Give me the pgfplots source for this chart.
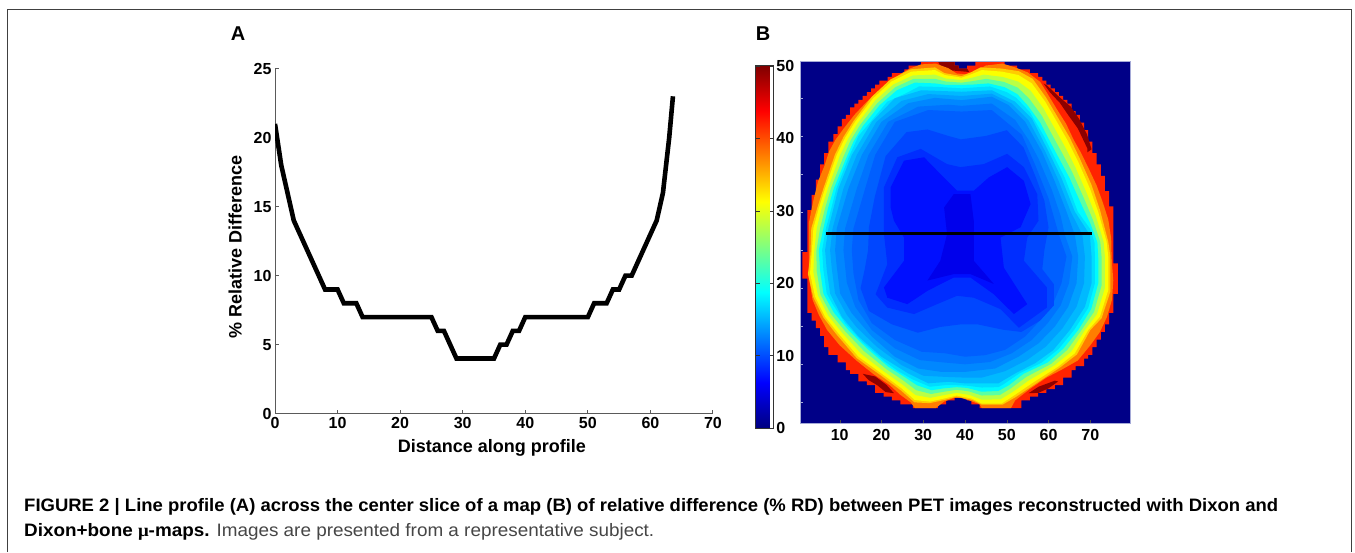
\documentclass[border=0pt]{standalone}
\usepackage{pgfplots}
\usepackage{graphicx}
\usepackage{fontspec}
\pgfplotsset{compat=1.18}
\setmainfont{Liberation Sans}
\newfontfamily\symfont{Liberation Serif}
\definecolor{bgb}{RGB}{0,0,135}
\definecolor{cR}{RGB}{255,35,0}
\definecolor{cDR}{RGB}{140,0,0}
\definecolor{cO}{RGB}{255,125,0}
\definecolor{cYO}{RGB}{255,205,0}
\definecolor{cY}{RGB}{250,255,0}
\definecolor{cG1}{RGB}{185,255,70}
\definecolor{cG2}{RGB}{90,255,165}
\definecolor{cC}{RGB}{0,250,255}
\definecolor{cCL}{RGB}{0,220,255}
\definecolor{cL}{RGB}{0,185,255}
\definecolor{cLM}{RGB}{0,160,255}
\definecolor{cM}{RGB}{0,135,255}
\definecolor{cMB}{RGB}{0,115,255}
\definecolor{cB}{RGB}{0,95,255}
\definecolor{cBD}{RGB}{0,70,255}
\definecolor{cD}{RGB}{0,45,255}
\definecolor{cE}{RGB}{0,15,255}
\definecolor{cF}{RGB}{0,0,235}
\definecolor{axg}{RGB}{90,90,90}
\definecolor{axb}{RGB}{165,170,215}
\definecolor{capg}{RGB}{70,70,70}
\newcommand{\lab}{\bfseries\fontsize{16}{16}\selectfont}
\begin{document}
\begin{tikzpicture}[x=1pt,y=1pt]
\useasboundingbox (0,0) rectangle (1355,552);
\fill[white] (0,0) rectangle (1355,552);
\draw[black!75,line width=0.8pt] (7,0) -- (7,543) -- (1351,543) -- (1351,0);
\node[anchor=center,font=\bfseries\fontsize{20}{20}\selectfont] at (238,518) {A};
\node[anchor=center,font=\bfseries\fontsize{20}{20}\selectfont] at (763,518) {B};
\node[anchor=base west,inner sep=0pt] at (24,41) {\resizebox{1254pt}{\height}{\fontsize{18}{18}\selectfont\bfseries FIGURE 2 | Line profile (A) across the center slice of a map (B) of relative difference (\% RD) between PET images reconstructed with Dixon and}};
\node[anchor=base west,inner sep=0pt] at (24,16) {\resizebox{630pt}{\height}{\fontsize{18}{18}\selectfont{\bfseries Dixon+bone {\symfont μ}-maps.} \textcolor{capg}{Images are presented from a representative subject.}}};
\begin{axis}[
  at={(275pt,138.3pt)},anchor=south west,scale only axis,width=438pt,height=345pt,
  xmin=0,xmax=70,ymin=0,ymax=25,
  axis x line*=bottom,axis y line*=left,
  axis line style={axg,line width=1pt,-},
  tick style={axg,line width=1pt},tick align=inside,major tick length=4pt,
  xtick={0,10,...,70},ytick={0,5,...,25},
  /pgf/number format/assume math mode=true,
  ticklabel style={font=\lab},
  xlabel={Distance along profile},ylabel={\% Relative Difference},
  label style={font=\bfseries\fontsize{18}{18}\selectfont},
  xlabel style={at={(axis description cs:0.495,-0.1)},anchor=center},
  ylabel style={at={(axis description cs:-0.091,0.483)},anchor=center},
]
\addplot[black,line width=4.6pt,line join=miter] coordinates {
(0,21)(1,18)(2,16)(3,14)(4,13)(5,12)(6,11)(7,10)(8,9)(9,9)(10,9)(11,8)(12,8)(13,8)(14,7)(15,7)(20,7)(25,7)(26,6)(27,6)(28,5)(29,4)(30,4)(35,4)(36,5)(37,5)(38,6)(39,6)(40,7)(45,7)(50,7)(51,8)(52,8)(53,8)(54,9)(55,9)(56,10)(57,10)(58,11)(59,12)(60,13)(61,14)(62,16)(63,20)(63.6,23)};
\end{axis}
\begin{axis}[
  at={(800pt,128.7pt)},anchor=south west,scale only axis,width=330pt,height=361.6pt,
  xmin=0.5,xmax=79.5,ymin=0.5,ymax=95.5,y dir=reverse,
  axis background/.style={fill=bgb},
  axis line style={axb,line width=0.8pt},
  axis on top,
  tick align=inside,major tick length=3pt,
  xtick={10,20,...,70},ytick={10,20,...,90},yticklabels={},
  xtick pos=left,xticklabel pos=left,ytick pos=left,
  x tick style={black!70},y tick style={axb},
  /pgf/number format/assume math mode=true,
  xticklabel style={font=\lab,yshift=-2pt},
  point meta min=0,point meta max=50,
  colormap/jet,colorbar,
  colorbar style={
    at={(parent axis.south west)},anchor=south west,xshift=-53pt,yshift=-4.7pt,
    width=18.3pt,height=362.3pt,
    ytick={0,10,...,50},yticklabel pos=right,
    tick align=inside,major tick length=4pt,
    axis line style={black!80,line width=0.7pt},
    tick style={black!80},
    /pgf/number format/assume math mode=true,
    yticklabel style={font=\lab,xshift=-1pt},
  },
]
% head outline
\addplot[fill=cR,draw=none] coordinates {(29.5,0.5)(37.5,0.5)(37.5,1.5)(38.5,1.5)(38.5,2.3)(40.5,2.3)(40.5,1.5)(42.5,1.5)(42.5,0.5)(49.5,0.5)(49.5,1.5)(52.5,1.5)(52.5,2.5)(55.5,2.5)(55.5,3.5)(57.5,3.5)(57.5,4.5)(58.5,4.5)(58.5,5.5)(59.5,5.5)(59.5,6.5)(60.5,6.5)(60.5,7.5)(61.5,7.5)(61.5,8.5)(62.5,8.5)(62.5,9.5)(63.5,9.5)(63.5,10.5)(64.5,10.5)(64.5,11.5)(65.5,11.5)(65.5,13.5)(66.5,13.5)(66.5,14.5)(67.5,14.5)(67.5,16.5)(68.5,16.5)(68.5,18.5)(69.5,18.5)(69.5,21.5)(70.5,21.5)(70.5,24.5)(71.5,24.5)(71.5,27.5)(72.5,27.5)(72.5,30.5)(73.5,30.5)(73.5,34.5)(74.5,34.5)(74.5,38.5)(75.5,38.5)(75.5,53.5)(76.6,53.5)(76.6,61.5)(75.5,61.5)(75.5,66.5)(74.5,66.5)(74.5,69.5)(73.5,69.5)(73.5,71.5)(72.5,71.5)(72.5,73.5)(71.5,73.5)(71.5,75.5)(70.5,75.5)(70.5,77.5)(69.5,77.5)(69.5,78.5)(68.5,78.5)(68.5,80.5)(66.5,80.5)(66.5,81.5)(65.5,81.5)(65.5,83.5)(63.5,83.5)(63.5,85.5)(61.5,85.5)(61.5,86.5)(59.5,86.5)(59.5,87.5)(57.5,87.5)(57.5,88.5)(55.5,88.5)(55.5,89.5)(53.5,89.5)(53.5,91.5)(43.5,91.5)(43.5,90.5)(41.5,90.5)(41.5,89.5)(40.5,89.5)(40.5,88.5)(37.5,88.5)(37.5,89.5)(35.5,89.5)(35.5,90.5)(33.5,90.5)(33.5,91.5)(27.5,91.5)(27.5,90.5)(24.5,90.5)(24.5,89.5)(22.5,89.5)(22.5,88.5)(20.5,88.5)(20.5,87.5)(18.5,87.5)(18.5,85.5)(16.5,85.5)(16.5,84.5)(14.5,84.5)(14.5,82.5)(12.5,82.5)(12.5,81.5)(11.5,81.5)(11.5,79.5)(9.5,79.5)(9.5,77.5)(7.3,77.5)(7.3,75.5)(6.3,75.5)(6.3,72.5)(5.3,72.5)(5.3,70.5)(4.3,70.5)(4.3,68.5)(3.3,68.5)(3.3,66.5)(2.25,66.5)(2.25,57.5)(1.05,57.5)(1.05,50.5)(2.25,50.5)(2.25,39.5)(3.3,39.5)(3.3,35.5)(4.3,35.5)(4.3,31.5)(5.3,31.5)(5.3,27.5)(6.3,27.5)(6.3,24.5)(7.3,24.5)(7.3,21.5)(8.5,21.5)(8.5,19.5)(9.5,19.5)(9.5,17.5)(10.5,17.5)(10.5,15.5)(11.5,15.5)(11.5,14.5)(12.5,14.5)(12.5,12.5)(13.5,12.5)(13.5,11.5)(14.5,11.5)(14.5,10.5)(15.5,10.5)(15.5,9.5)(16.5,9.5)(16.5,8.5)(17.5,8.5)(17.5,7.5)(18.5,7.5)(18.5,6.5)(19.5,6.5)(19.5,5.5)(21.5,5.5)(21.5,4.5)(22.5,4.5)(22.5,3.5)(25.5,3.5)(25.5,2.5)(26.5,2.5)(26.5,1.5)(29.5,1.5)} --cycle;
% dark red patches
\addplot[fill=cDR,draw=none] coordinates {(33.6,0.6)(37.5,0.6)(37.5,1.5)(38.5,1.5)(38.5,2.3)(40.5,2.3)(41,3.2)(36.8,2.8)(34.4,2.2)} --cycle;
\addplot[fill=cDR,draw=none] coordinates {(59.7,6.8)(62.4,9.6)(65.3,12.3)(67.3,15.5)(69.2,19.6)(70.3,23.5)(69.3,24.3)(69.3,23.3)(67,18)(64.7,14.5)(62.7,11.3)(60.3,8.5)(58.8,6.2)} --cycle;
\addplot[fill=cDR,draw=none] coordinates {(15.5,82.5)(18.5,83.2)(21.2,85.4)(23,87.6)(21,87.3)(19,85.5)(17,84.2)} --cycle;
\addplot[fill=cDR,draw=none] coordinates {(55.2,87.6)(57.6,85.9)(61.5,84.3)(62.3,84.5)(60,86.3)(57.6,87.5)} --cycle;
% rim bands
\addplot[fill=cO,draw=none] coordinates {(25,3.4)(27,2.2)(29.5,1.2)(33,1)(36,2.2)(38,3.6)(40,3.8)(42.5,3)(45,1.5)(49,1)(52,2)(55,3.3)(58,5.8)(59.8,9)(62,13)(64.2,16.8)(66,21)(67.8,24.5)(69.8,29)(71.5,33)(73,37.5)(74.3,42)(75,47)(75.1,52)(75.5,58)(75.2,63)(74,67.5)(72.3,71.5)(70,75)(67,79)(63,81.5)(59.5,83.5)(55.5,86.5)(52,89.5)(51,91.5)(44,91.5)(43.5,90.5)(41,89.5)(39,88.8)(37.5,88.8)(35,89.8)(33,91.5)(28,91.5)(27,90)(24.5,88)(22,85.5)(18,82.5)(14,79)(10,75)(7,71)(5,67)(3.5,63)(2.6,57)(2.6,50)(2.6,43)(3.7,37)(4.8,32)(6.3,28)(7.5,24)(9,21)(11,18)(13.5,14.5)(16.5,11)(19.5,8)(23,5)} --cycle;
\addplot[fill=cYO,draw=none] coordinates {(3,51)(3.2,44.3)(4.6,39)(6.1,33.8)(8.9,24.8)(10.9,20.3)(13.3,16.1)(17.7,9.7)(22.1,5.2)(27,2.5)(32.8,2)(35.1,3.5)(39.2,4.3)(41.4,3.3)(43.7,2)(48.7,2.3)(52.9,3)(56.2,5)(59.4,9.9)(62.2,15.1)(65.1,20.5)(67.5,26)(70.3,32.9)(72.3,39.4)(74.3,47.8)(74.8,51.6)(74.8,60.9)(72.7,67.9)(70,71)(66.8,77.4)(62.8,80.8)(56.4,85.5)(52.3,88.5)(49,90.6)(44,90.6)(41.8,89.4)(38,88.5)(35,89.4)(31.5,90.2)(27.9,90)(24.7,86.9)(19.7,82.8)(14.1,78.4)(9.2,72.1)(6.1,67.7)(3.7,62.4)(2.4,56.3)} --cycle;
\addplot[fill=cY,draw=none] coordinates {(3.3,50.8)(3.7,44.3)(5,39)(6.5,33.8)(9.3,25)(11.3,20.5)(13.7,16.3)(18,10.1)(22.4,5.7)(27.2,3.1)(32.8,2.7)(35.2,4)(39.2,4.7)(41.5,3.8)(44,2.7)(48.8,3.1)(52.8,4)(56,6.2)(59.2,11)(62,16.3)(64.7,21.5)(67.1,26.8)(69.9,33.8)(71.9,40)(73.9,47.8)(74.3,51.7)(74.3,60.5)(72.3,67.5)(69.5,71)(66.3,77.1)(62.3,80.6)(56,85)(52,88)(48.8,90.3)(44,90.3)(41.6,89)(38,88.2)(35,89)(31.6,89.8)(28,89.4)(24.8,86.3)(20,82.4)(14.5,78)(9.7,71.9)(6.5,67.5)(4.1,62.2)(2.9,56.1)} --cycle;
\addplot[fill=cG1,draw=none] coordinates {(3.9,50.5)(4.5,44.3)(5.7,39)(7.2,33.8)(10,25.3)(12,20.8)(14.3,16.7)(18.5,10.7)(22.8,6.5)(27.5,4.1)(32.8,3.9)(35.3,4.9)(39.2,5.3)(41.7,4.7)(44.5,3.9)(49,4.5)(52.7,5.7)(55.7,8.1)(58.8,12.8)(61.6,18.3)(64.1,23.2)(66.4,28.2)(69.2,35.2)(71.3,41)(73.2,47.9)(73.5,51.8)(73.5,59.9)(71.6,66.8)(68.7,71)(65.4,76.7)(61.5,80.2)(55.3,84.2)(51.5,87.2)(48.5,89.2)(44,89.3)(41.2,88.1)(38,87.5)(35,88.1)(31.7,88.8)(28.2,88.1)(25,85.3)(20.5,81.8)(15.2,77.3)(10.5,71.6)(7.2,67.1)(4.8,61.9)(3.7,55.8)} --cycle;
\addplot[fill=cG2,draw=none] coordinates {(4.4,50.3)(5.3,44.3)(6.5,39)(7.9,33.8)(10.8,25.7)(12.6,21.2)(14.9,17.1)(19,11.4)(23.3,7.2)(27.7,5)(32.8,5)(35.4,5.7)(39.2,6)(41.8,5.6)(45.1,5)(49.3,5.8)(52.6,7.3)(55.3,10.1)(58.4,14.7)(61.2,20.4)(63.4,24.8)(65.7,29.6)(68.6,36.7)(70.6,42)(72.4,47.9)(72.7,51.9)(72.7,59.3)(70.9,66.2)(67.9,71)(64.5,76.2)(60.6,79.9)(54.7,83.3)(51,86.3)(48.3,88.1)(44,88.2)(40.9,87.1)(38,86.7)(35,87.2)(31.9,87.8)(28.3,86.8)(25.3,84.3)(21.1,81.2)(15.8,76.5)(11.3,71.3)(7.9,66.8)(5.4,61.7)(4.5,55.5)} --cycle;
\addplot[fill=cC,draw=none] coordinates {(5,50)(6.1,44.3)(7.2,39)(8.6,33.8)(11.5,26)(13.3,21.5)(15.5,17.5)(19.5,12)(23.7,8)(28,6)(32.8,6.2)(35.5,6.6)(39.2,6.6)(42,6.5)(45.6,6.2)(49.5,7.2)(52.5,9)(55,12)(58,16.5)(60.8,22.4)(62.8,26.5)(65,31)(67.9,38.1)(70,43)(71.7,48)(71.9,52)(71.9,58.7)(70.2,65.5)(67.1,71)(63.6,75.8)(59.8,79.5)(54,82.5)(50.5,85.5)(48,87)(44,87.2)(40.5,86.2)(38,86)(35,86.3)(32,86.8)(28.5,85.5)(25.5,83.3)(21.6,80.6)(16.5,75.8)(12.1,71)(8.6,66.4)(6.1,61.4)(5.3,55.2)} --cycle;
\addplot[fill=cCL,draw=none] coordinates {(5.8,50)(6.7,44.3)(8,39)(9.2,33.8)(12.2,25.5)(14.5,20)(17,16.8)(21.4,11)(25.5,9)(29,7)(33,7.1)(39.2,7.5)(43,7.2)(46,7)(50,8.5)(52.3,10)(55.5,13.7)(59,20.3)(61.9,26.7)(63.9,31)(67,39.9)(70,44.5)(71,48)(71.1,52)(71.1,58.7)(69.5,65.2)(66.1,71)(62.4,76)(58.3,79.6)(53,82.4)(49.3,85.2)(48,86)(44,86.1)(40.3,85.6)(38,85.5)(35,85.5)(31.6,85.9)(27.5,84)(24,81.8)(20.8,79.3)(15.5,74.2)(11.3,69.2)(8.2,64)(6.9,61.4)(6.1,55.2)} --cycle;
% interior levels
\addplot[fill=cL,draw=none] coordinates {(6.5,50)(7.3,44.3)(9.7,33.8)(12.9,25)(17.7,16.3)(23.2,10.1)(29.6,8)(39.2,8.4)(46.4,8)(52,11)(56,15.4)(60,24.1)(63.1,31.1)(66.3,39.9)(69.9,46)(70.3,51.7)(70.3,58.7)(68.7,64.9)(65.1,71)(61.1,76.3)(56.8,79.7)(52,82.4)(48,85)(40,85)(36,84.6)(31.2,85)(26.4,82.4)(20,78)(14.5,72.7)(10.5,67.5)(7.7,61.4)(6.9,55.2)} --cycle;
\addplot[fill=cLM,draw=none] coordinates {(7.7,50)(8.3,44.3)(10.9,33.8)(14.1,25)(18.8,16.3)(24.8,10.8)(31.2,9)(39.2,9.5)(46.4,8.9)(51.2,11.5)(55.2,15.9)(59.2,24.1)(62.3,31.5)(65.3,39.9)(68.1,46)(68.7,51.7)(68.5,58.7)(66.7,64.9)(63.3,70.6)(59.3,75.4)(54.8,78.9)(49.6,81.8)(44,83.5)(40,83.5)(35.2,83.3)(30,83)(24.8,80.2)(18.9,75.4)(14,70.2)(11.7,67)(8.9,61.4)(8.1,54.8)} --cycle;
\addplot[fill=cM,draw=none] coordinates {(8.9,50)(9.3,44.3)(12.1,33.8)(15.3,25)(20,16.3)(26.4,11.4)(32.8,10)(39.2,10.6)(46.4,9.7)(50.4,11.9)(54.4,16.3)(58.4,24.1)(61.5,32)(64.3,39.9)(66.3,46)(67.1,51.7)(66.7,58.7)(64.7,64.9)(61.5,70.1)(57.6,74.5)(52.8,78)(47.2,81.1)(40,82)(34.4,82)(28.8,81.1)(23.2,78)(17.7,72.7)(12.9,66.6)(10.1,61.4)(9.3,54.4)} --cycle;
\addplot[fill=cMB,draw=none] coordinates {(10.9,50)(11.3,44.3)(14.1,33.8)(16.9,25)(21.6,16.3)(28.8,12.3)(36,11.8)(39.2,12.1)(46.4,11.5)(52,15.8)(55.2,21)(57.6,26)(60.8,34.2)(62.9,41)(63.9,46)(65.7,51.7)(64.9,58.7)(62.9,64.5)(59.8,69.2)(56,73.6)(51.2,77.1)(46,79.4)(40,80)(34.8,79.5)(29.2,78.9)(23.2,75.8)(17.7,71)(13.7,64.9)(11.7,58.5)} --cycle;
\addplot[fill=cB,draw=none] coordinates {(12.9,50)(13.3,44.3)(16.1,33.8)(18.5,25)(23.2,16.3)(31.2,13.2)(39.2,13.6)(46.4,13.2)(53.6,19.7)(56.8,27.6)(60,36.4)(62.5,46)(64.3,51.7)(63.1,58.7)(61.1,64)(58,68.4)(54.4,72.7)(49.6,76.2)(44.8,77.6)(40,78)(35.2,77.1)(29.6,76.7)(23.2,73.6)(17.7,69.2)(14.5,63.1)(13.3,56.1)} --cycle;
\addplot[fill=cBD,draw=none] coordinates {(16.8,50)(17,44)(18.4,36)(21,25.3)(26,19)(31,18.3)(36,20)(39,20.9)(45,20)(50,18.5)(54,23)(57,31)(59,37)(60,44)(59,50)(58.5,55)(61.3,59)(61.3,64.5)(58,68.5)(53.5,71.5)(49,70.9)(43,69.5)(39,69.5)(34,70.2)(28.7,71.7)(22.5,69.5)(17,66)(15,60)(16,55)} --cycle;
\addplot[fill=cD,draw=none] coordinates {(20.6,38.8)(20.6,33.5)(23.8,25.6)(29.4,23.4)(35.7,27.4)(38.9,28.2)(44.5,27.4)(50.1,24.7)(54.1,28.2)(57.3,35.3)(57.6,42.3)(54.9,46.7)(54.1,52.8)(59.6,59.8)(59.6,65.1)(52.9,70.4)(48.5,65.5)(42.1,62.5)(38.1,62)(33.3,64.2)(27.8,66.8)(21.4,65.1)(18.6,61.6)(21.4,53.7)(20.6,45.8)} --cycle;
\addplot[fill=cE,draw=none] coordinates {(22.2,38.8)(22.2,33.5)(25.4,26.5)(30.2,25.6)(34.9,30.9)(38.1,34.4)(42.1,34.4)(45.7,30.9)(50.1,28.2)(54.1,31.8)(55.7,37.9)(53.3,44)(48.5,46.7)(49.3,54.6)(54.9,64.2)(51.7,66.8)(46.9,61.6)(41.3,57.2)(37.3,57.2)(31,60.7)(26.2,64.2)(21.4,62.5)(20.6,59.8)(25.4,52.8)(25.4,46.7)(23,42.3)} --cycle;
\addplot[fill=cF,draw=none] coordinates {(35,38.8)(37.3,35.3)(41.3,35.3)(42.1,42.3)(42.1,52.8)(46.9,58.9)(41.3,56.3)(37.3,56.3)(31,58)(34.1,52.8)(35.7,45.8)} --cycle;
% profile line
\addplot[black,line width=3.6pt] coordinates {(6.8,45.6)(70.4,45.6)};
\end{axis}
\end{tikzpicture}
\end{document}
